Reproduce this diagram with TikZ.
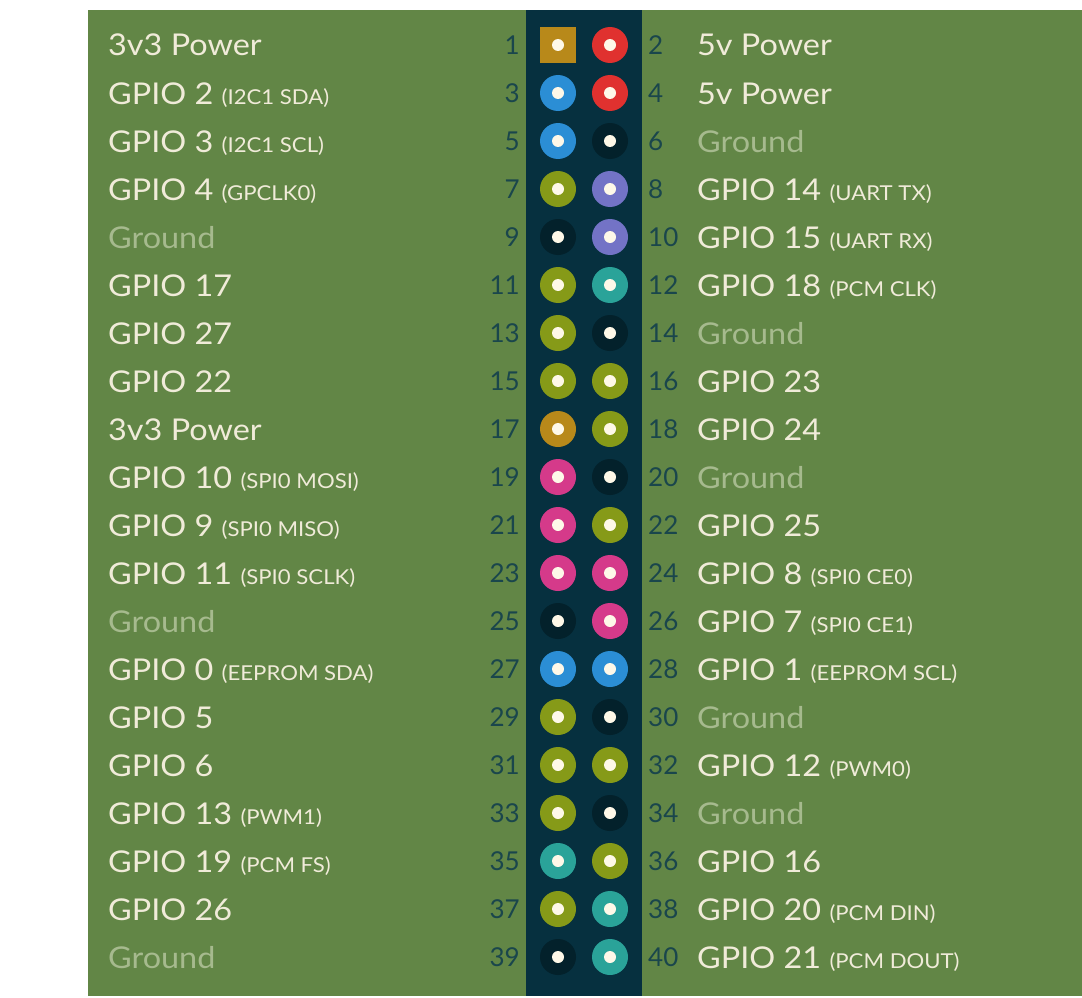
\documentclass[tikz,border=0pt]{standalone}
\usepackage{fontspec}
\setmainfont{Lato}[FakeStretch=1.08]
\newfontfamily\numfont{Lato}
\definecolor{bggreen}{RGB}{98,134,70}
\definecolor{stripc}{HTML}{06303F}
\definecolor{numc}{HTML}{1A464C}
\definecolor{txtc}{HTML}{F0EBD9}
\definecolor{gndtxt}{HTML}{A6BA8E}
\definecolor{pwr}{HTML}{B8891A}
\definecolor{redp}{HTML}{E0312F}
\definecolor{bluep}{HTML}{2B8ED5}
\definecolor{blkp}{HTML}{03212B}
\definecolor{olivep}{HTML}{869A18}
\definecolor{purp}{HTML}{7373C6}
\definecolor{tealp}{HTML}{2AA399}
\definecolor{magp}{HTML}{D53A8A}
\definecolor{dotc}{HTML}{FEF8E8}
\newcommand\sm[1]{{\fontsize{20.5}{20.5}\selectfont #1}}
\newcommand\gd{{\color{gndtxt}Ground}}
\begin{document}
\begin{tikzpicture}[x=1pt,y=-1pt,
  pin/.style={circle,fill=#1,minimum size=36pt,inner sep=0pt},
  sqpin/.style={rectangle,fill=#1,minimum size=36pt,inner sep=0pt},
  pindot/.style={circle,fill=dotc,minimum size=12pt,inner sep=0pt},
  num/.style={inner sep=0pt,text=numc,font=\numfont\fontsize{26}{26}\selectfont},
  lbl/.style={inner sep=0pt,text=txtc,font=\fontsize{30}{30}\selectfont}]
\useasboundingbox (0,0) rectangle (1082,998);
\fill[bggreen] (88,10) rectangle (1082,996);
\fill[stripc] (526,10) rectangle (642,996);
\foreach \L/\R/\lc/\rc/\lt/\rt [count=\i from 0] in {
 1/2/pwr/redp/{3v3 Power}/{5v Power},
 3/4/bluep/redp/{GPIO 2 \sm{(I2C1 SDA)}}/{5v Power},
 5/6/bluep/blkp/{GPIO 3 \sm{(I2C1 SCL)}}/{\gd},
 7/8/olivep/purp/{GPIO 4 \sm{(GPCLK0)}}/{GPIO 14 \sm{(UART TX)}},
 9/10/blkp/purp/{\gd}/{GPIO 15 \sm{(UART RX)}},
 11/12/olivep/tealp/{GPIO 17}/{GPIO 18 \sm{(PCM CLK)}},
 13/14/olivep/blkp/{GPIO 27}/{\gd},
 15/16/olivep/olivep/{GPIO 22}/{GPIO 23},
 17/18/pwr/olivep/{3v3 Power}/{GPIO 24},
 19/20/magp/blkp/{GPIO 10 \sm{(SPI0 MOSI)}}/{\gd},
 21/22/magp/olivep/{GPIO 9 \sm{(SPI0 MISO)}}/{GPIO 25},
 23/24/magp/magp/{GPIO 11 \sm{(SPI0 SCLK)}}/{GPIO 8 \sm{(SPI0 CE0)}},
 25/26/blkp/magp/{\gd}/{GPIO 7 \sm{(SPI0 CE1)}},
 27/28/bluep/bluep/{GPIO 0 \sm{(EEPROM SDA)}}/{GPIO 1 \sm{(EEPROM SCL)}},
 29/30/olivep/blkp/{GPIO 5}/{\gd},
 31/32/olivep/olivep/{GPIO 6}/{GPIO 12 \sm{(PWM0)}},
 33/34/olivep/blkp/{GPIO 13 \sm{(PWM1)}}/{\gd},
 35/36/tealp/olivep/{GPIO 19 \sm{(PCM FS)}}/{GPIO 16},
 37/38/olivep/tealp/{GPIO 26}/{GPIO 20 \sm{(PCM DIN)}},
 39/40/blkp/tealp/{\gd}/{GPIO 21 \sm{(PCM DOUT)}}} {
  \pgfmathsetmacro\y{45+48*\i}
  \ifnum\L=1
    \node[sqpin=\lc] (pL\L) at (558,\y) {};
  \else
    \node[pin=\lc] (pL\L) at (558,\y) {};
  \fi
  \node[pin=\rc] (pR\R) at (610,\y) {};
  \node[pindot] (dL\L) at (pL\L) {};
  \node[pindot] (dR\R) at (pR\R) {};
  \node[num,anchor=base east] (nL\L) at (520,\y+9.5) {\L};
  \node[num,anchor=base west] (nR\R) at (648,\y+9.5) {\R};
  \node[lbl,anchor=base west] (tL\L) at (108,\y+11) {\lt};
  \node[lbl,anchor=base west] (tR\R) at (697,\y+11) {\rt};
}
\end{tikzpicture}
\end{document}
